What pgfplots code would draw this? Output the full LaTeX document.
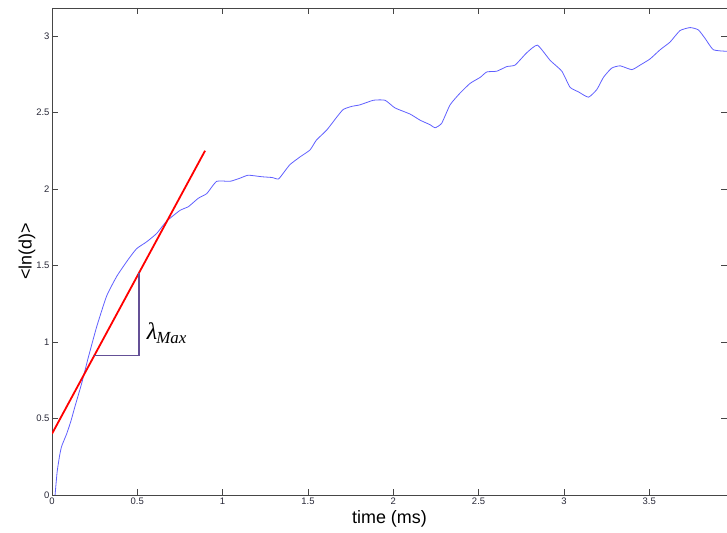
\documentclass[border=0pt]{standalone}
\usepackage{pgfplots}
\pgfplotsset{compat=1.18}
\usepackage{fontspec}
\setmainfont{Liberation Sans}
\newfontfamily\tms{Liberation Serif}
\definecolor{curveblue}{RGB}{95,95,255}
\definecolor{tri}{RGB}{100,80,150}
\definecolor{axgray}{RGB}{70,70,70}
\definecolor{labgray}{RGB}{40,40,55}
\begin{document}
\begin{tikzpicture}
\useasboundingbox (-52bp,-38bp) rectangle (675bp,495bp);
\begin{axis}[
  at={(0,0)}, anchor=south west,
  scale only axis, width=675bp, height=487bp,
  xmin=0, xmax=3.956, ymin=0, ymax=3.183,
  xtick={0,0.5,1,1.5,2,2.5,3,3.5},
  ytick={0,0.5,1,1.5,2,2.5,3},
  xticklabels={0,0.5,1,1.5,2,2.5,3,3.5},
  yticklabels={0,0.5,1,1.5,2,2.5,3},
  tick align=inside, major tick length=6bp,
  tick style={axgray, line width=0.6bp},
  axis line style={axgray, line width=0.8bp},
  tick label style={font=\fontsize{9.5}{11}\selectfont, text=labgray},
  xticklabel style={yshift=1bp},
  yticklabel style={xshift=1bp},
  xlabel={time (ms)}, ylabel={<ln(d)>},
  label style={font=\fontsize{18}{20}\selectfont},
  xlabel style={at={(axis description cs:0.5,0)}, anchor=center, yshift=-24bp},
  ylabel style={at={(axis description cs:0,0.5)}, anchor=center, xshift=0bp, yshift=25bp},
  clip=true,
]
\addplot[curveblue, line width=0.8bp, smooth, tension=0.3] coordinates {
(0.018,0) (0.03,0.15) (0.045,0.26) (0.057,0.32) (0.086,0.40) (0.11,0.48)
(0.135,0.58) (0.174,0.73) (0.213,0.90) (0.262,1.10) (0.32,1.30) (0.38,1.43)
(0.447,1.54) (0.496,1.61) (0.555,1.655) (0.614,1.71) (0.672,1.79) (0.75,1.86)
(0.80,1.885) (0.858,1.94) (0.907,1.97) (0.965,2.05) (1.043,2.05) (1.10,2.07)
(1.15,2.09) (1.23,2.08) (1.29,2.075) (1.327,2.065) (1.36,2.11) (1.395,2.16)
(1.454,2.21) (1.512,2.255) (1.55,2.32) (1.61,2.385) (1.669,2.47) (1.707,2.52)
(1.757,2.54) (1.805,2.55) (1.884,2.58) (1.952,2.58) (2.01,2.53) (2.098,2.49)
(2.157,2.45) (2.216,2.42) (2.245,2.40) (2.284,2.43) (2.333,2.55) (2.39,2.625)
(2.45,2.69) (2.51,2.73) (2.548,2.765) (2.607,2.77) (2.665,2.80) (2.714,2.81)
(2.782,2.89) (2.845,2.94) (2.92,2.84) (2.988,2.77) (3.036,2.665) (3.085,2.635)
(3.144,2.60) (3.193,2.65) (3.232,2.73) (3.28,2.79) (3.33,2.805) (3.398,2.78)
(3.447,2.81) (3.505,2.85) (3.564,2.91) (3.622,2.96) (3.68,3.035) (3.74,3.055)
(3.788,3.04) (3.827,2.985) (3.876,2.91) (3.955,2.90)
};
\addplot[red, line width=1.8bp] coordinates {(0,0.40) (0.897,2.25)};
\addplot[tri, line width=1.1bp] coordinates {(0.246,0.913) (0.51,0.913) (0.51,1.453)};
\node[anchor=west, inner sep=0pt] at (axis cs:0.555,1.06)
  {\tms\itshape\fontsize{24}{24}\selectfont λ\kern-1bp\raisebox{-4bp}{\fontsize{17}{17}\selectfont Max}};
\end{axis}
\end{tikzpicture}
\end{document}
